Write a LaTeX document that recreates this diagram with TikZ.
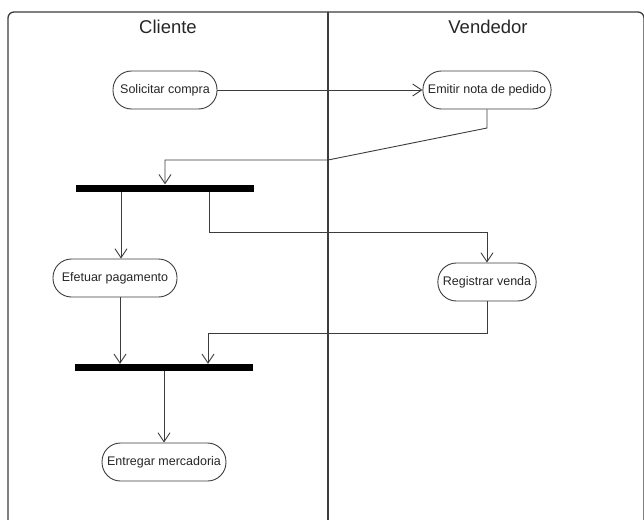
\documentclass[tikz,border=0pt]{standalone}
\usepackage{fontspec}
\setmainfont{Liberation Sans}
\usetikzlibrary{arrows.meta}
\definecolor{linegray}{HTML}{3C3C3C}
\tikzset{
  act/.style={draw=linegray, line width=0.9pt, rounded corners=18.5pt, minimum height=38pt,
              inner xsep=5pt, font=\fontsize{12.5}{14}\selectfont, text=black!85},
  forkbar/.style={fill=black, draw=none, minimum width=178pt, minimum height=7pt, inner sep=0pt},
  flow/.style={draw=linegray, line width=0.9pt, -{Straight Barb[length=9pt,width=12pt,line width=0.9pt]}},
  lane/.style={draw=linegray, line width=1.3pt},
  lanetitle/.style={font=\fontsize{18.5}{22}\selectfont, text=black!85}
}
\begin{document}
\begin{tikzpicture}[x=1pt,y=-1pt]
  \useasboundingbox (0,0) rectangle (644,519);
  \begin{scope}
    \clip (0,0) rectangle (644,519);
    % swimlane frame and divider
    \draw[lane, rounded corners=6pt] (8,530) -- (8,12) -- (644,12) -- (644,530);
    \draw[lane] (328,12) -- (328,530);
  \end{scope}
  \node[lanetitle] (cliente) at (168,27) {Cliente};
  \node[lanetitle] (vendedor) at (488,27) {Vendedor};

  % activities
  \node[act, minimum width=104pt] (solicitar) at (165,90) {Solicitar compra};
  \node[act, minimum width=124pt] (emitir) at (487,90) {Emitir nota de pedido};
  \node[act, minimum width=124pt] (efetuar) at (115,278) {Efetuar pagamento};
  \node[act, minimum width=98pt] (registrar) at (487,282) {Registrar venda};
  \node[act, minimum width=120pt] (entregar) at (164,462) {Entregar mercadoria};

  % fork and join bars
  \node[forkbar] (fork) at (164.5,188) {};
  \node[forkbar] (join) at (164,367.5) {};

  % bend points
  \coordinate (e1) at (487,128);
  \coordinate (e2) at (328,160);
  \coordinate (e3) at (165,160);
  \coordinate (f1) at (209,232);
  \coordinate (f2) at (487,232);
  \coordinate (r1) at (487,333);
  \coordinate (r2) at (208,333);

  % connectors
  \draw[flow] (solicitar.east) -- (emitir.west);
  \draw[flow] (emitir.south) -- (e1) -- (e2) -- (e3) -- (fork.north -| e3);
  \draw[flow] (fork.south -| 121,0) -- (efetuar.north -| 121,0);
  \draw[flow] (fork.south -| f1) -- (f1) -- (f2) -- (registrar.north);
  \draw[flow] (efetuar.south -| 120,0) -- (join.north -| 120,0);
  \draw[flow] (registrar.south) -- (r1) -- (r2) -- (join.north -| r2);
  \draw[flow] (join.south) -- (entregar.north);
\end{tikzpicture}
\end{document}
